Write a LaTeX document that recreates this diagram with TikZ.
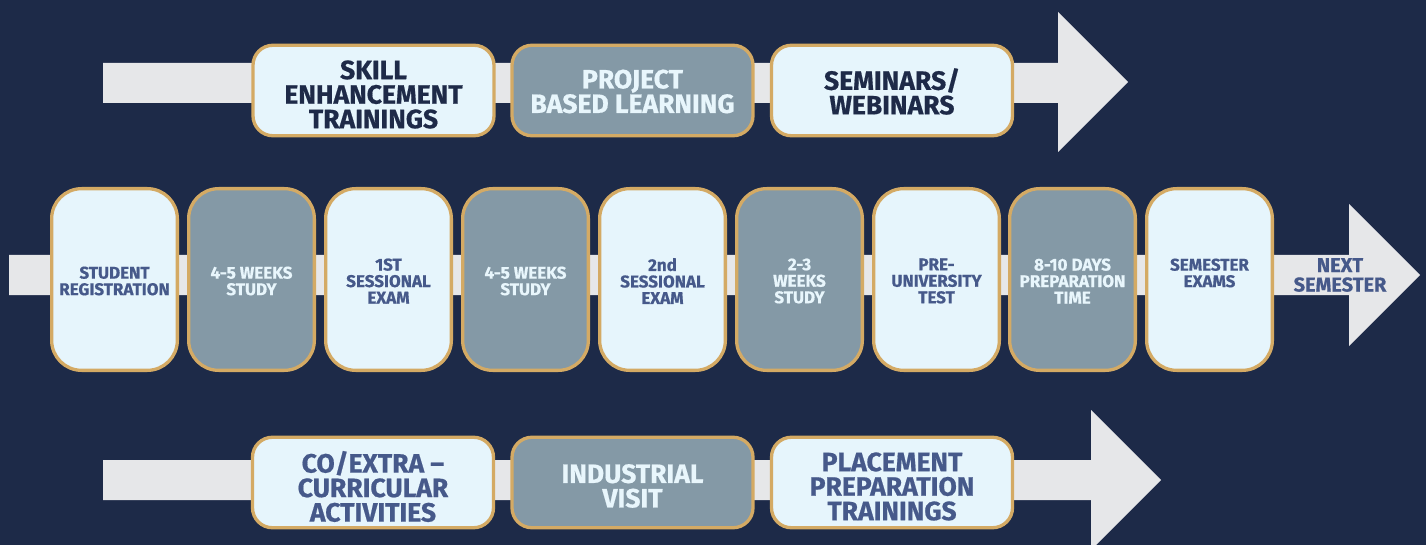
\documentclass[tikz,border=0pt]{standalone}
\usepackage{fontspec}
\setmainfont{Fira Sans}[BoldFeatures={FakeBold=0.6}]
\definecolor{bgnavy}{HTML}{1D2A48}
\definecolor{arrowgray}{HTML}{E6E7E9}
\definecolor{lightfill}{HTML}{E6F5FC}
\definecolor{darkfill}{HTML}{8499A6}
\definecolor{goldline}{HTML}{D4AA64}
\definecolor{slatetext}{HTML}{46598A}
\definecolor{navytext}{HTML}{1E2A48}
\definecolor{palettext}{HTML}{E8F6FC}
\begin{document}
\begin{tikzpicture}[x=1pt,y=-1pt,
  boxbase/.style={draw=goldline, line width=3.3pt, inner sep=0pt},
  lbox/.style={boxbase, fill=lightfill},
  dbox/.style={boxbase, fill=darkfill},
  wide/.style={minimum width=241pt, minimum height=90.5pt, rounded corners=20pt},
  tall/.style={minimum width=125.7pt, minimum height=181.7pt, rounded corners=30pt},
  txt/.style={align=center, inner sep=0pt},
  widetxt/.style={txt, font=\fontsize{26.5}{24.5}\selectfont\bfseries},
  talltxt/.style={txt, font=\fontsize{17}{16.5}\selectfont\bfseries},
  navy/.style={text=navytext},
  slate/.style={text=slatetext},
  pale/.style={text=palettext}
]
\fill[bgnavy] (0,0) rectangle (1426,545);
\useasboundingbox (0,0) rectangle (1426,545);
% arrows
\fill[arrowgray] (103,63) -- (1058,63) -- (1058,12) -- (1128,82) -- (1058,152) -- (1058,103) -- (103,103) -- cycle;
\fill[arrowgray] (9,255) -- (1349,255) -- (1349,204) -- (1420,275) -- (1349,346) -- (1349,295) -- (9,295) -- cycle;
\fill[arrowgray] (103,460) -- (1091,460) -- (1091,410) -- (1161,480) -- (1091,550) -- (1091,500) -- (103,500) -- cycle;
% top row
\node[lbox,wide] (tb1) at (373.5,90.5) {};
\node[dbox,wide] (tb2) at (632.5,90.5) {};
\node[lbox,wide] (tb3) at (892,90.5) {};
\node[widetxt,navy] (t1) at ([yshift=-4pt]tb1.center) {SKILL\\ENHANCEMENT\\TRAININGS};
\node[widetxt,pale] (t2) at ([yshift=-1pt]tb2.center) {PROJECT\\BASED LEARNING};
\node[widetxt,navy] (t3) at ([yshift=-1pt]tb3.center) {SEMINARS/\\WEBINARS};
% middle row
\node[lbox,tall] (mb1) at (114.5,279.5) {};
\node[dbox,tall] (mb2) at (251.5,279.5) {};
\node[lbox,tall] (mb3) at (388.5,279.5) {};
\node[dbox,tall] (mb4) at (525.5,279.5) {};
\node[lbox,tall] (mb5) at (662.5,279.5) {};
\node[dbox,tall] (mb6) at (799.5,279.5) {};
\node[lbox,tall] (mb7) at (936.5,279.5) {};
\node[dbox,tall] (mb8) at (1072.5,279.5) {};
\node[lbox,tall] (mb9) at (1209.5,279.5) {};
\node[talltxt,slate] (m1) at ([yshift=-1.5pt]mb1.center) {STUDENT\\REGISTRATION};
\node[talltxt,pale]  (m2) at ([yshift=-1.5pt]mb2.center) {4-5 WEEKS\\STUDY};
\node[talltxt,slate] (m3) at ([yshift=-1.5pt]mb3.center) {1ST\\SESSIONAL\\EXAM};
\node[talltxt,pale]  (m4) at ([yshift=-1.5pt]mb4.center) {4-5 WEEKS\\STUDY};
\node[talltxt,slate] (m5) at ([yshift=-1.5pt]mb5.center) {2nd\\SESSIONAL\\EXAM};
\node[talltxt,pale]  (m6) at ([yshift=-1.5pt]mb6.center) {2-3\\WEEKS\\STUDY};
\node[talltxt,slate] (m7) at ([yshift=-1.5pt]mb7.center) {PRE-\\UNIVERSITY\\TEST};
\node[talltxt,pale]  (m8) at ([yshift=-1.5pt]mb8.center) {8-10 DAYS\\PREPARATION\\TIME};
\node[talltxt,slate] (m9) at ([yshift=6.5pt]mb9.center) {SEMESTER\\EXAMS};
\node[txt,slate, font=\fontsize{20}{19.5}\selectfont\bfseries] (ns) at (1340,275) {NEXT\\SEMESTER};
% bottom row
\node[lbox,wide] (bb1) at (373,482.5) {};
\node[dbox,wide] (bb2) at (632.5,482.5) {};
\node[lbox,wide] (bb3) at (892,482.5) {};
\node[widetxt,slate] (b1) at ([yshift=-4pt]bb1.center) {CO/EXTRA –\\CURRICULAR\\ACTIVITIES};
\node[widetxt,pale]  (b2) at ([yshift=-3.5pt]bb2.center) {INDUSTRIAL\\VISIT};
\node[widetxt,slate] (b3) at ([yshift=-4pt]bb3.center) {PLACEMENT\\PREPARATION\\TRAININGS};
\end{tikzpicture}
\end{document}
